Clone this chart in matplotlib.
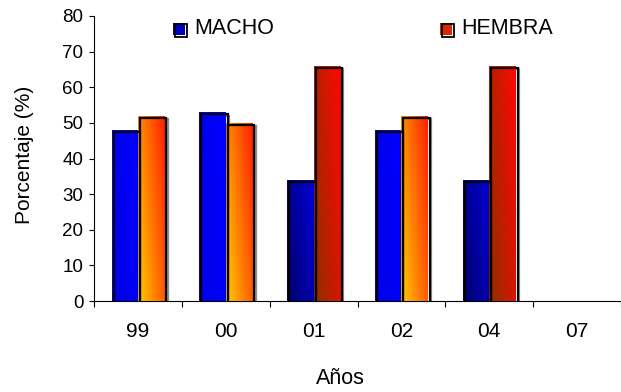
import numpy as np
import matplotlib
matplotlib.use('Agg')
from matplotlib import pyplot as plt
from matplotlib.patches import Rectangle
from matplotlib.transforms import ScaledTranslation

plt.rcParams['font.family'] = ['Liberation Sans', 'DejaVu Sans']

# datos
years = ['99', '00', '01', '02', '04', '07']
macho = [48, 53, 34, 48, 34, 0]
hembra = [52, 50, 66, 52, 66, 0]
shade = ['light', 'light', 'dark', 'light', 'dark', 'light']
series_names = ['MACHO', 'HEMBRA']

# colores del degradado (abajo-izquierda -> arriba-derecha)
grad_colors = {
    ('m', 'light'): ('#0000E6', '#0000FF'),
    ('m', 'dark'): ('#00006A', '#0000D8'),
    ('h', 'light'): ('#FFCC00', '#FF1E00'),
    ('h', 'dark'): ('#8E2E00', '#FF0800'),
}


def hex2rgb(c):
    c = c.lstrip('#')
    return np.array([int(c[i:i + 2], 16) / 255 for i in (0, 2, 4)])


def gradient_img(c0, c1, n=60):
    u = np.linspace(0, 1, n)
    uu, vv = np.meshgrid(u, u)
    t = 0.65 * uu + 0.35 * (1 - vv)
    a, b = hex2rgb(c0), hex2rgb(c1)
    return a[None, None, :] * (1 - t[..., None]) + b[None, None, :] * t[..., None]


fig = plt.figure(figsize=(6.21, 3.92), dpi=100)
ax = fig.add_axes([94 / 621, 91 / 392, 527 / 621, 285 / 392])

x = np.arange(len(years)) + 0.5
w = 0.30

dpi = fig.dpi
off_black = ScaledTranslation(2 / dpi, -2 / dpi, fig.dpi_scale_trans)
off_gray = ScaledTranslation(3.5 / dpi, -3.5 / dpi, fig.dpi_scale_trans)

for key, vals, xs in (('m', macho, x - w / 2), ('h', hembra, x + w / 2)):
    for i, (xc, v) in enumerate(zip(xs, vals)):
        if v <= 0:
            continue
        x0, x1 = xc - w / 2, xc + w / 2
        # sombra gris
        ax.bar(xc, v, w, fill=False, edgecolor='#8c8c8c', linewidth=1.6,
               transform=ax.transData + off_gray, zorder=2)
        # relleno con degradado
        rect = ax.bar(xc, v, w, color='none', linewidth=0, zorder=3)[0]
        c0, c1 = grad_colors[(key, shade[i])]
        im = ax.imshow(gradient_img(c0, c1), extent=[x0, x1, 0, v],
                       aspect='auto', zorder=3, interpolation='bilinear')
        im.set_clip_path(rect)
        # borde negro desplazado
        ax.bar(xc, v, w, fill=False, edgecolor='black', linewidth=1.6,
               transform=ax.transData + off_black, zorder=4)

ax.set_xlim(0, len(years))
ax.set_ylim(0, 80)
ax.set_yticks(np.arange(0, 81, 10))
ax.set_xticks(np.arange(0, len(years) + 1))
ax.set_xticklabels([])
ax.set_xticks(x, minor=True)
ax.set_xticklabels(years, minor=True)
ax.tick_params(axis='x', which='major', direction='out', length=4.5, width=0.8)
ax.tick_params(axis='x', which='minor', length=0, pad=15, labelsize=15)
ax.tick_params(axis='y', direction='out', length=3.6, width=0.8, pad=4, labelsize=13.5)
for s in ('top', 'right'):
    ax.spines[s].set_visible(False)
for s in ('left', 'bottom'):
    ax.spines[s].set_linewidth(0.8)

fig.text(25 / 621, 1 - 155 / 392, 'Porcentaje (%)', rotation=90,
         ha='center', va='center', fontsize=15)
fig.text(340 / 621, 1 - 378 / 392, 'Años', ha='center', va='center', fontsize=15.5)

# leyenda manual
leg_font = ['Liberation Sans Narrow', 'Liberation Sans', 'DejaVu Sans']
leg_x = [173, 440]
leg_fill = ['#0000C0', '#D82A00']
for name, lx, fc in zip(series_names, leg_x, leg_fill):
    fig.add_artist(Rectangle((lx / 621, 1 - 35 / 392), 12 / 621, 12 / 392,
                             facecolor=fc, edgecolor='none',
                             transform=fig.transFigure))
    fig.add_artist(Rectangle(((lx + 1.5) / 621, 1 - 36.5 / 392), 12 / 621, 12 / 392,
                             facecolor='none', edgecolor='black', linewidth=1.3,
                             transform=fig.transFigure))
    fig.text((lx + 21) / 621, 1 - 29 / 392, name, ha='left', va='center',
             fontsize=15.5, family=leg_font)

fig.savefig('out.png', dpi=100)
